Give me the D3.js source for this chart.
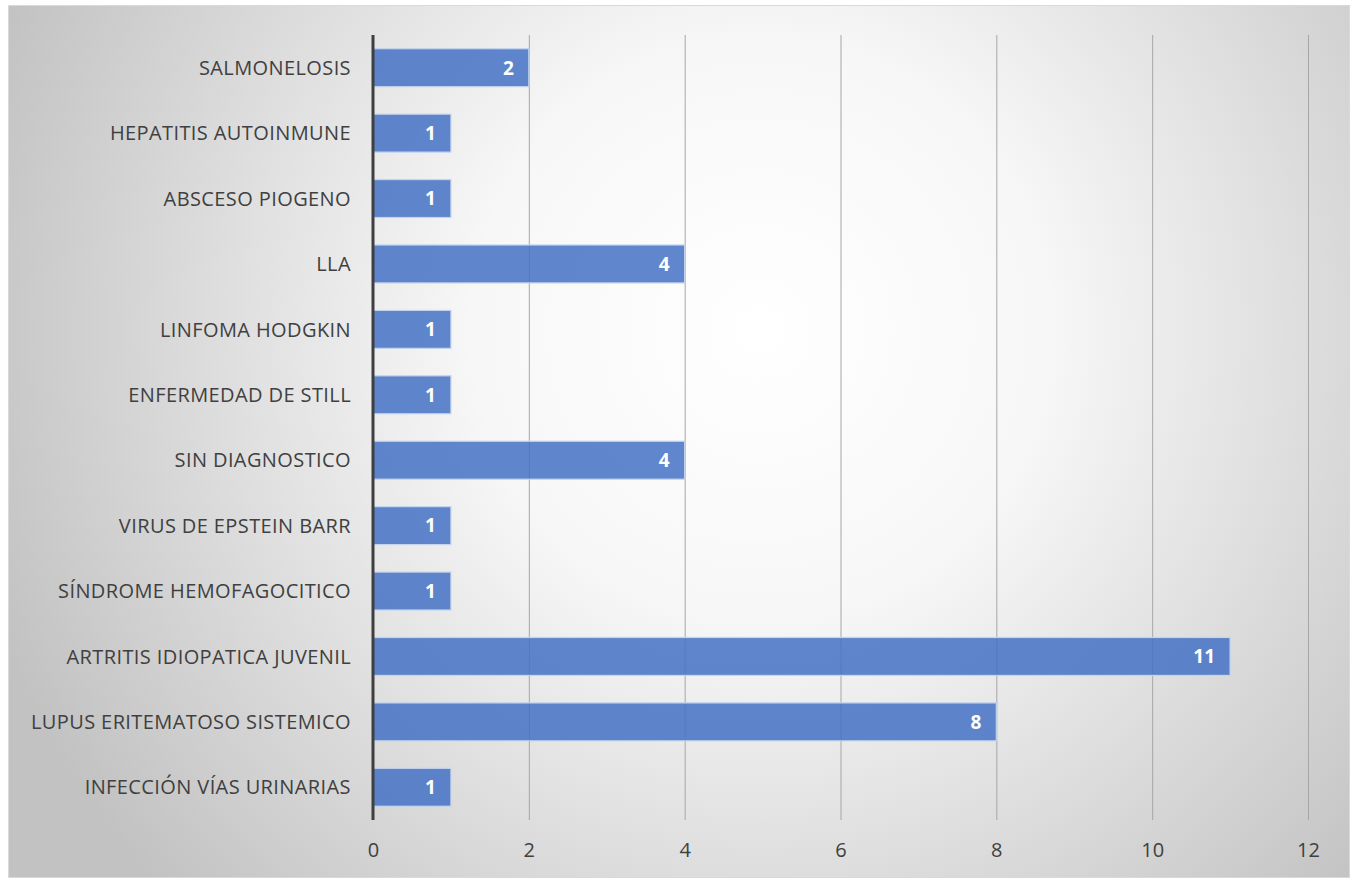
<!DOCTYPE html>
<html lang="es">
<head>
<meta charset="UTF-8">
<title>Diagnósticos</title>
<script src="https://cdn.jsdelivr.net/npm/d3@7"></script>
<style>
  body { margin: 0; background: #fff; }
  text { font-family: "Open Sans", "Noto Sans", sans-serif; }
</style>
</head>
<body>
<svg width="1356" height="879"></svg>
<script>
// datos, de arriba hacia abajo
var categorias = [
  "SALMONELOSIS",
  "HEPATITIS AUTOINMUNE",
  "ABSCESO PIOGENO",
  "LLA",
  "LINFOMA HODGKIN",
  "ENFERMEDAD DE STILL",
  "SIN DIAGNOSTICO",
  "VIRUS DE EPSTEIN BARR",
  "SÍNDROME HEMOFAGOCITICO",
  "ARTRITIS IDIOPATICA JUVENIL",
  "LUPUS ERITEMATOSO SISTEMICO",
  "INFECCIÓN VÍAS URINARIAS"
];
var valores = [2, 1, 1, 4, 1, 1, 4, 1, 1, 11, 8, 1];
var ticks = [0, 2, 4, 6, 8, 10, 12];

var svg = d3.select("svg");

// fondo con degradado radial
var defs = svg.append("defs");
var grad = defs.append("radialGradient")
  .attr("id", "fondo")
  .attr("gradientUnits", "userSpaceOnUse")
  .attr("cx", 760).attr("cy", 330).attr("r", 820);
grad.append("stop").attr("offset", "0%").attr("stop-color", "#ffffff");
grad.append("stop").attr("offset", "35%").attr("stop-color", "#f7f7f7");
grad.append("stop").attr("offset", "100%").attr("stop-color", "#c2c2c2");

svg.append("rect")
  .attr("x", 8.5).attr("y", 5.5)
  .attr("width", 1341).attr("height", 872)
  .attr("fill", "url(#fondo)")
  .attr("stroke", "#d9d9d9");

var x = d3.scaleLinear().domain([0, 12]).range([373, 1308]);
var y = d3.scaleBand().domain(categorias).range([35, 820]).paddingInner(0.42).paddingOuter(0.21);

// rejilla
svg.append("g").selectAll("line")
  .data(ticks.slice(1))
  .enter().append("line")
  .attr("x1", d => x(d) + 0.5).attr("x2", d => x(d) + 0.5)
  .attr("y1", 35).attr("y2", 820)
  .attr("stroke", "#a6a6a6")
  .attr("stroke-width", 1);

// barras
svg.append("g").selectAll("rect")
  .data(valores)
  .enter().append("rect")
  .attr("x", x(0))
  .attr("y", (d, i) => y(categorias[i]))
  .attr("width", d => x(d) - x(0))
  .attr("height", y.bandwidth())
  .attr("fill", "#4472c4")
  .attr("fill-opacity", 0.85)
  .attr("stroke", "#c5d4ee")
  .attr("stroke-width", 1.2);

// etiquetas de valor
svg.append("g").selectAll("text")
  .data(valores)
  .enter().append("text")
  .attr("x", d => x(d) - 15)
  .attr("y", (d, i) => y(categorias[i]) + y.bandwidth() / 2)
  .attr("dy", "0.36em")
  .attr("text-anchor", "end")
  .attr("fill", "#fff")
  .attr("font-weight", "bold")
  .attr("font-size", 19)
  .text(d => d);

// eje vertical (0)
svg.append("line")
  .attr("x1", x(0)).attr("x2", x(0))
  .attr("y1", 35).attr("y2", 820)
  .attr("stroke", "#3f3f3f")
  .attr("stroke-width", 3);

// etiquetas de categoría
svg.append("g").selectAll("text")
  .data(categorias)
  .enter().append("text")
  .attr("x", 351)
  .attr("y", d => y(d) + y.bandwidth() / 2)
  .attr("dy", "0.36em")
  .attr("text-anchor", "end")
  .attr("fill", "#404040")
  .attr("font-size", 20)
  .attr("letter-spacing", 0.4)
  .text(d => d);

// eje x
var ejeX = d3.axisBottom(x).tickValues(ticks).tickSize(0).tickPadding(23);
svg.append("g")
  .attr("transform", "translate(0,820)")
  .call(ejeX)
  .call(g => g.select(".domain").remove())
  .selectAll("text")
  .attr("font-size", 20)
  .attr("fill", "#404040")
  .style("font-family", "'Open Sans', sans-serif");
</script>
</body>
</html>
